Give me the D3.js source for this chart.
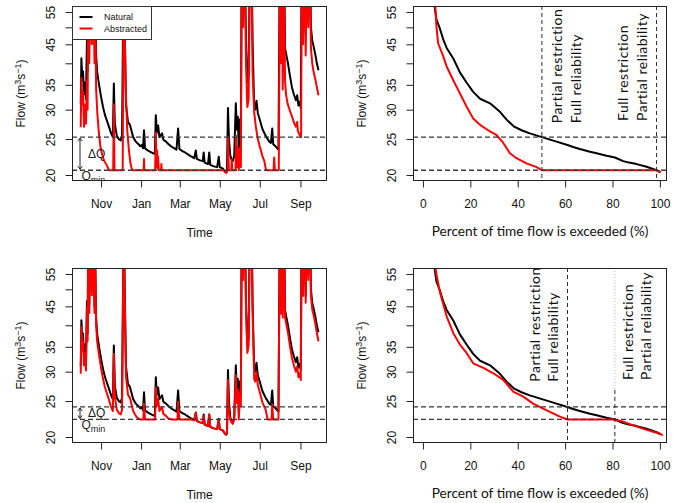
<!DOCTYPE html>
<html><head><meta charset="utf-8">
<script src="https://cdn.jsdelivr.net/npm/d3@7/dist/d3.min.js"></script>
<style>
html,body{margin:0;padding:0;background:#fff;}
svg{display:block;}
.ax text{font-family:"Liberation Sans",Arial,sans-serif;font-size:12px;fill:#111;}
.ax line{stroke:#222;stroke-width:1;}
</style></head><body>
<svg id="chart" width="674" height="503"></svg>
<script>
// ---------------- DATA ----------------
const waterYearStart = "2001-10-01";               // day 0 of the series
const monthTicks = ["2001-11-01","2002-01-01","2002-03-01","2002-05-01","2002-07-01","2002-09-01"];
const flowTicks = [20,25,30,35,40,45,50,55];
const flowTickLabels = ["20","25","30","35","","45","","55"];
const pctTicks = [0,20,40,60,80,100];
const seriesNames = ["Natural","Abstracted"];

// [days since 1 Oct, flow m3/s]
const naturalFlow = [[0,31],[1,41.3],[2.5,36],[3.5,38],[5,33],[6.5,35.5],[8,32],[9.5,46.5],[10.5,38],[11.5,70],[13,45],[15,75],[17,50],[19,75],[21,45],[22,62],[23.5,42],[25,38],[28,35],[31,32.5],[34,30.5],[37,29],[40,28],[43,27],[46,26],[49,25.3],[50.5,35.3],[52,27.5],[55,25.5],[58,25],[61,24.8],[63,25.5],[65.5,78],[67.5,45],[69,31],[72,27.8],[75,27.3],[77,26.5],[80,25.3],[84,24.6],[88,24.2],[91,23.9],[93,24.1],[95,23.6],[96.5,26.4],[98,23.6],[102,23.3],[106,23.1],[110,22.9],[113,22.8],[114.5,29],[116,26],[118,27.2],[120,25.3],[122,25.6],[124,25.9],[126,24.9],[130,24.6],[134,24.2],[139,23.8],[143,23.6],[146,23.4],[148.5,26.7],[150.5,23.5],[155,23.2],[159,23.0],[164,22.7],[169,22.4],[173,22.2],[175.5,23.3],[177,22.1],[182,21.9],[186,21.8],[187.5,23.0],[189,21.6],[194,21.4],[196,23.0],[197.5,21.3],[203,21.1],[208,21.0],[210.5,22.4],[212,21.0],[217,20.8],[220,20.4],[222,20.3],[223,20.5],[224.5,30.3],[226,25],[228,22.6],[230,22],[232,21.8],[234,22.5],[236.5,31.2],[238,26.5],[239.5,28.7],[241,23.6],[243,28.3],[244.2,26],[245.5,80],[247.5,55],[249,85],[251,60],[252,46],[254,35.5],[256,37],[258,80],[260,90],[262,46],[264.5,30.5],[266,30],[268,31.7],[270,29.4],[272.5,28.4],[277,26.6],[282,25.5],[287.5,24.6],[290,24.4],[292,26.7],[293.5,24.2],[297,23.9],[301.5,23.4],[303.5,75],[305,45],[306.5,85],[308,44],[310,75],[311.5,44],[313,42.5],[316,40],[319,37],[322,34.5],[325,33],[328,31.8],[330,32.8],[332,30.8],[334,31.5],[335.5,30.3],[337,80],[339,50],[341,90],[343,48],[345,80],[347,55],[349,85],[351,50],[353,46],[355,44.5],[358,42],[360,40],[362.5,38.3]];

const abstractedTop = [[0,26.9],[1,36.5],[2.5,31],[3.5,33.5],[5,27],[6.5,31],[8,27.5],[9.5,36],[10.5,30],[11.5,68],[13,40],[15,72],[17,45],[19,72],[21,40],[22,58],[23.5,34],[25.4,29.2],[27.9,25.7],[30.4,23.6],[33,22.6],[35.5,21.9],[40.6,21.1],[43,20.6],[49.5,20.6],[50.5,31],[51.5,20.6],[64,20.6],[65.5,75],[68.5,34.5],[71,26.3],[73.5,23.3],[76,21.4],[78.5,20.6],[96,20.6],[96.5,22.1],[97,20.6],[113.5,20.6],[114.5,26],[115.5,21],[116.5,23.3],[117.5,20.8],[118,22.4],[119,20.6],[122.5,20.6],[123,21.4],[123.5,20.6],[218,20.6],[220,20.4],[222,20.3],[223,20.5],[224,20.6],[224.8,25.3],[225.8,20.6],[229.5,20.6],[230.3,22],[231,20.6],[236,20.6],[237,25.5],[238.5,21],[239.5,23.8],[241,20.6],[243,23.5],[244.2,21],[245.5,75],[247.5,50],[249,80],[251,55],[252,40],[254,30.5],[256,32],[258,75],[260,85],[262,38],[264.5,29.5],[267,27],[269.5,25.3],[272,24.2],[274.7,23.3],[277,22.5],[280,21.8],[282.5,20.6],[294,20.6],[295,22.3],[296,20.6],[302,20.6],[303.5,72],[305,40],[306.5,80],[308,34],[310,70],[311.5,36],[313,33],[315.5,31.1],[320.7,29.2],[325.8,27.5],[328,27],[330,27.8],[331,26.3],[334,25.6],[336,25.3],[337,75],[339,45],[341,85],[343,42],[345,75],[347,50],[349,80],[351,44],[353,40],[355,38],[358,36],[360,34.5],[362.5,32.8]];

const abstractedBottom = [[0,29.6],[1,39.5],[2.5,34.2],[3.5,36.2],[5,31.2],[6.5,33.7],[8,30.2],[9.5,44.7],[10.5,36.2],[11.5,68],[13,43.2],[15,73],[17,48.2],[19,73],[21,43.2],[22,60],[23.5,40.2],[25,36.2],[28,33.2],[31,30.7],[34,28.7],[37,27.2],[40,26.2],[43,25.2],[46,24.2],[49,23.5],[50.5,33.5],[52,25.7],[55,23.7],[58,23.2],[61,23.0],[63,23.7],[65.5,76],[67.5,43.2],[69,29.2],[72,26],[75,25.5],[77,24.7],[80,23.5],[84,22.8],[88,22.4],[91,22.3],[95.5,22.3],[96.5,24.6],[98,22.3],[113.5,22.3],[114.5,27.2],[116,24.2],[118,25.4],[120,23.5],[122,23.8],[124,24.1],[126,23.1],[130,22.8],[134,22.4],[139,22.3],[147.5,22.3],[148.5,24.9],[150.5,22.3],[169,22.3],[173,22.2],[175.5,23.2],[177,22.1],[182,21.9],[186,21.8],[187.5,22.8],[189,21.6],[194,21.4],[196,23.0],[197.5,21.3],[203,21.1],[208,21.0],[210.5,22.2],[212,21.0],[217,20.8],[220,20.4],[222,20.3],[223,20.5],[224.5,28.5],[226,23.2],[228,22.3],[230,21.9],[232,21.7],[234,22.4],[236.5,29.4],[238,24.7],[239.5,26.9],[241,22.3],[243,26.5],[244.2,24.2],[245.5,78],[247.5,53],[249,83],[251,58],[252,44],[254,33.7],[256,35.2],[258,78],[260,88],[262,44],[264.5,28.7],[266,28.2],[268,29.9],[270,27.6],[272.5,26.6],[277,24.8],[282,23.7],[285,22.3],[291,22.3],[292,24.5],[293.5,22.3],[301.5,22.3],[303.5,73],[305,43],[306.5,83],[308,42],[310,73],[311.5,42],[313,40.7],[316,38.2],[319,35.2],[322,32.7],[325,31.2],[328,30],[330,31],[332,29],[334,29.7],[335.5,28.5],[337,78],[339,48],[341,88],[343,46],[345,78],[347,53],[349,83],[351,48],[353,44.2],[355,42.7],[358,40.2],[360,38.2],[362.5,36.2]];

// flow duration curves: [percent of time exceeded, flow]
const fdcNatural = [[1,120],[3,75],[4.9,57],[5.7,52.5],[7.2,49.5],[8.6,46.3],[10,44],[12.8,41.2],[15.6,37.8],[18.4,35.5],[21.2,33.5],[24.1,32.1],[28.3,31.2],[32.5,29.6],[35.3,28.2],[38.5,27],[41.6,26.4],[45.1,25.9],[50.2,25.3],[56.4,24.6],[61,24.1],[63.4,23.8],[66.2,23.5],[70.5,23.1],[73.3,22.9],[77.5,22.55],[81,22.3],[84.5,21.8],[87,21.6],[90.2,21.4],[94.4,21.05],[98.6,20.6],[100.3,20.35]];
const fdcAbstractedTop = [[1,110],[3,70],[5.2,57],[5.7,50.2],[6.4,45.3],[8.6,41.7],[10,39.2],[12.8,36],[15.6,33.2],[18.4,30.6],[21.2,28.4],[24.1,27.3],[28.3,26.2],[31.1,25.6],[33.9,24.4],[36.7,22.9],[39.5,22.2],[43.7,21.5],[48,21.0],[50.2,20.6],[98.6,20.6],[100.3,20.3]];
const fdcAbstractedBottom = [[1,115],[3,72],[5.3,57],[5.8,54.4],[7.2,49],[10,42.3],[12.8,38.1],[15.6,35.5],[18.4,33.7],[21.2,31.6],[25.5,30.7],[29.7,29.7],[33.9,28.5],[38.1,26.5],[42.3,25.7],[46.5,24.6],[52.2,23.6],[57.8,22.7],[61,22.3],[81,22.3],[84.5,22.0],[88.7,21.5],[94.4,20.9],[100,20.4],[101.2,20.2]];

// thresholds [top scenario, bottom scenario]
const qMin = [20.6, 22.3];
const qUpper = [25.3, 24.1];
const fdcSplitsTop = [50.2, 98.6];
const fdcSplitsBottom = [61, 81];
const regimeLabels = [["Partial restriction","Full reliability"],["Full restriction","Partial reliability"]];
const timeTitle = "Time";
const fdcTitle = "Percent of time flow is exceeded (%)";

// ---------------- DRAWING ----------------
const svg = d3.select("#chart");
const FONT = '"Liberation Sans", Arial, sans-serif';
const NOTE_FONT = 'Lato, "Open Sans", sans-serif';
const RED = "#ff0000";

const P = {
  tl:{x0:72, x1:327, y0:6,   y1:181},
  tr:{x0:413,x1:667, y0:6,   y1:181},
  bl:{x0:72, x1:327, y0:268, y1:443},
  br:{x0:413,x1:667, y0:268, y1:443}
};

const parseDay = d3.timeParse("%Y-%m-%d");
const t0 = parseDay(waterYearStart);
const dayToDate = d => new Date(t0.getTime() + d*864e5);

const yFor = p => d3.scaleLog().domain([19.27,57.08]).range([p.y1,p.y0]);
const xTimeFor = p => d3.scaleTime().domain([dayToDate(-13.3), dayToDate(375.5)]).range([p.x0,p.x1]);
const xPctFor = p => d3.scaleLinear().domain([-4.2,103]).range([p.x0,p.x1]);

let clipN = 0;
function makePanel(p, x, y, xTickVals, xFmt, xTitle, isTime){
  const g = svg.append("g");
  const id = "clip" + (clipN++);
  svg.append("clipPath").attr("id", id).append("rect")
    .attr("x", p.x0).attr("y", p.y0).attr("width", p.x1-p.x0).attr("height", p.y1-p.y0);

  const ya = g.append("g").attr("class","ax").attr("transform",`translate(${p.x0},0)`)
    .call(d3.axisLeft(y).tickValues(flowTicks).tickFormat((d,i)=>flowTickLabels[i]).tickSize(6.5).tickSizeOuter(0));
  ya.select(".domain").remove();
  ya.selectAll("text").attr("transform","rotate(-90)").attr("x",0).attr("y",-17).attr("dy",null).attr("text-anchor","middle");

  const xa = g.append("g").attr("class","ax").attr("transform",`translate(0,${p.y1})`)
    .call(d3.axisBottom(x).tickValues(xTickVals).tickFormat(xFmt).tickSize(6.5).tickSizeOuter(0));
  xa.select(".domain").remove();
  xa.selectAll("text").attr("y",27).attr("dy",null);

  // y title with superscripts
  const yt = g.append("text")
    .attr("transform",`translate(${p.x0-47},${(p.y0+p.y1)/2}) rotate(-90)`)
    .attr("text-anchor","middle").style("font-family",FONT).style("font-size","12px").attr("fill","#111");
  yt.append("tspan").text("Flow (m");
  yt.append("tspan").attr("dy",-4.5).style("font-size","9px").text("3");
  yt.append("tspan").attr("dy",4.5).text("s");
  yt.append("tspan").attr("dy",-4.5).style("font-size","9px").text("−1");
  yt.append("tspan").attr("dy",4.5).text(")");

  // x title
  g.append("text").attr("x",(p.x0+p.x1)/2).attr("y",p.y1+(isTime?56:55))
    .attr("text-anchor","middle")
    .style("font-family", isTime?FONT:NOTE_FONT).style("font-size", isTime?"12px":"13.7px")
    .attr("fill","#111").text(xTitle);

  const plot = g.append("g").attr("clip-path",`url(#${id})`);
  return {g, plot, clip:id};
}

function frame(g,p){
  g.append("rect").attr("x",p.x0+0.5).attr("y",p.y0+0.5)
    .attr("width",p.x1-p.x0-1).attr("height",p.y1-p.y0-1)
    .attr("fill","none").attr("stroke","#222").attr("stroke-width",1);
}

function hLines(plot,p,y,vals){
  plot.selectAll(null).data(vals).enter().append("line")
    .attr("x1",p.x0).attr("x2",p.x1).attr("y1",d=>y(d)).attr("y2",d=>y(d))
    .attr("stroke","#3a3a3a").attr("stroke-width",1.3).attr("stroke-dasharray","5,3");
}

function vLine(plot,p,xx,yTop,color,dash){
  plot.append("line").attr("x1",xx).attr("x2",xx).attr("y1",yTop).attr("y2",p.y1)
    .attr("stroke",color).attr("stroke-width",1).attr("stroke-dasharray",dash);
}

function series(plot, data, x, y, color){
  const line = d3.line().x(d=>x(d[0])).y(d=>y(d[1]));
  plot.append("path").datum(data).attr("d",line).attr("fill","none")
    .attr("stroke",color).attr("stroke-width",2).attr("stroke-linejoin","round");
}

function deltaQ(g,p,y,qlo,qhi){
  const xa = 80, yU = y(qhi), yL = y(qlo);
  g.append("path")
    .attr("d",`M${xa},${yU+1}L${xa},${yL-1}M${xa-2.2},${yU+4}L${xa},${yU+1}L${xa+2.2},${yU+4}M${xa-2.2},${yL-4}L${xa},${yL-1}L${xa+2.2},${yL-4}`)
    .attr("fill","none").attr("stroke","#222").attr("stroke-width",1);
  g.append("text").attr("x",88).attr("y",(yU+yL)/2+4).style("font-family",FONT).style("font-size","12px").attr("fill","#222").text("ΔQ");
  const q = g.append("text").attr("x",81.5).attr("y",yL+9.8).style("font-family",FONT).style("font-size","12px").attr("fill","#222");
  q.append("tspan").text("Q");
  q.append("tspan").attr("dy",2.8).style("font-size","9px").text("min");
}

const monthDates = monthTicks.map(parseDay);
const monthFmt = d3.timeFormat("%b");

// ---- top-left: time series, scenario 1
{
  const p = P.tl, x = xTimeFor(p), y = yFor(p);
  const {g, plot, clip} = makePanel(p, x, y, monthDates, monthFmt, timeTitle, true);
  const xd = d => x(dayToDate(d));
  series(plot, naturalFlow, xd, y, "#000");
  series(plot, abstractedTop, xd, y, RED);
  hLines(plot, p, y, [qMin[0], qUpper[0]]);
  const clipG = g.append("g").attr("clip-path", `url(#${clip})`);
  deltaQ(clipG, p, y, qMin[0], qUpper[0]);
  frame(g,p);
  // legend
  const lg = g.append("g");
  lg.append("rect").attr("x",p.x0+0.5).attr("y",p.y0+0.5).attr("width",79).attr("height",33)
    .attr("fill","#fff").attr("stroke","#333").attr("stroke-width",1);
  const colors = ["#000", RED];
  seriesNames.forEach((n,i)=>{
    const yy = p.y0 + 11 + i*11.5;
    lg.append("line").attr("x1",79.5).attr("x2",92.5).attr("y1",yy).attr("y2",yy)
      .attr("stroke",colors[i]).attr("stroke-width",2);
    lg.append("text").attr("x",104).attr("y",yy+3.3).style("font-family",FONT).style("font-size","9px")
      .attr("fill","#111").text(n);
  });
}

// ---- bottom-left: time series, scenario 2
{
  const p = P.bl, x = xTimeFor(p), y = yFor(p);
  const {g, plot, clip} = makePanel(p, x, y, monthDates, monthFmt, timeTitle, true);
  const xd = d => x(dayToDate(d));
  series(plot, naturalFlow, xd, y, "#000");
  series(plot, abstractedBottom, xd, y, RED);
  hLines(plot, p, y, [qMin[1], qUpper[1]]);
  const clipG = g.append("g").attr("clip-path", `url(#${clip})`);
  deltaQ(clipG, p, y, qMin[1], qUpper[1]);
  frame(g,p);
}

function noteText(g, xx, yy, txt){
  g.append("text").attr("transform",`translate(${xx},${yy}) rotate(-90)`)
    .attr("text-anchor","start").style("font-family",NOTE_FONT).style("font-size","14px")
    .style("letter-spacing","0.5px")
    .attr("fill","#111").text(txt);
}

// ---- top-right: FDC scenario 1
{
  const p = P.tr, x = xPctFor(p), y = yFor(p);
  const {g, plot} = makePanel(p, x, y, pctTicks, d3.format("d"), fdcTitle, false);
  series(plot, fdcNatural, x, y, "#000");
  series(plot, fdcAbstractedTop, x, y, RED);
  hLines(plot, p, y, [qMin[0], qUpper[0]]);
  fdcSplitsTop.forEach(s => vLine(plot, p, x(s), p.y0, "#2a2a2a", "4,3"));
  frame(g,p);
  const s1 = x(fdcSplitsTop[0]), s2 = x(fdcSplitsTop[1]);
  noteText(g, s1+20, p.y0+117.3, regimeLabels[0][0]);
  noteText(g, s1+39, p.y0+117.3, regimeLabels[0][1]);
  noteText(g, s2-28.4, p.y0+115, regimeLabels[1][0]);
  noteText(g, s2-10, p.y0+115, regimeLabels[1][1]);
}

// ---- bottom-right: FDC scenario 2
{
  const p = P.br, x = xPctFor(p), y = yFor(p);
  const {g, plot} = makePanel(p, x, y, pctTicks, d3.format("d"), fdcTitle, false);
  series(plot, fdcNatural, x, y, "#000");
  series(plot, fdcAbstractedBottom, x, y, RED);
  hLines(plot, p, y, [qMin[1], qUpper[1]]);
  const xa = x(fdcSplitsBottom[0]), xb = x(fdcSplitsBottom[1]);
  vLine(plot, p, xa, p.y0, "#2a2a2a", "4,3");
  plot.append("line").attr("x1",xb).attr("x2",xb).attr("y1",p.y0).attr("y2",p.y0+122)
    .attr("stroke","#bbb").attr("stroke-width",1).attr("stroke-dasharray","1,2");
  vLine(plot, p, xb, p.y0+122, "#2a2a2a", "4,3");
  frame(g,p);
  noteText(g, xa-27.7, p.y0+113.7, regimeLabels[0][0]);
  noteText(g, xa-9.4, p.y0+113.7, regimeLabels[0][1]);
  noteText(g, xb+18, p.y0+112, regimeLabels[1][0]);
  noteText(g, xb+36.4, p.y0+112, regimeLabels[1][1]);
}
</script>
</body></html>
